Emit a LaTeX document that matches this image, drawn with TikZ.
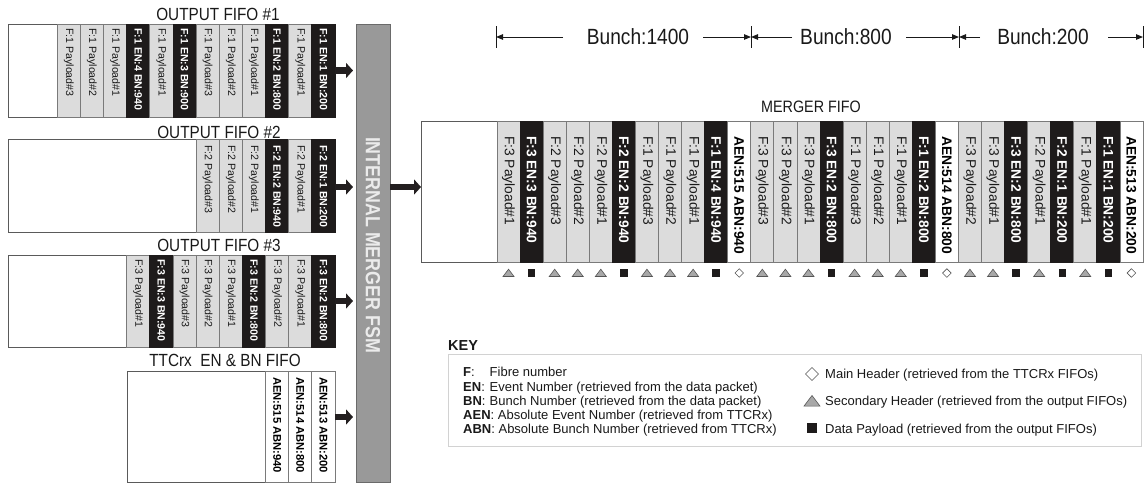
\documentclass[tikz,border=0pt]{standalone}
\usepackage{fontspec}
\setmainfont{Liberation Sans}
\newfontfamily\narrowfont[FakeStretch=0.87]{Liberation Sans}
\usetikzlibrary{arrows.meta}
\definecolor{paygray}{HTML}{DCDCDC}
\definecolor{cellline}{HTML}{7A7A7A}
\definecolor{hdrblack}{HTML}{1E1B1B}
\definecolor{boxline}{HTML}{5A5A5A}
\definecolor{fsmgray}{HTML}{999999}
\definecolor{fsmline}{HTML}{6A6A6A}
\definecolor{arrowblack}{HTML}{231F20}
\definecolor{keyline}{HTML}{D2D2D2}
\definecolor{trigray}{HTML}{A8A8A8}
\definecolor{markline}{HTML}{555555}
\newcommand\fsz[1]{\fontsize{#1}{#1}\selectfont}
\newif\ifmarks
\newcommand\fifocells[8]{%
  \foreach \ty/\tx [count=\i] in {#8} {%
    \pgfmathsetmacro\xx{#2+(\i-1)*#4}%
    \ifcase\ty
      \node[cellbase, paycell, minimum width=#4pt, minimum height=#5pt] (#1\i) at (\xx,-#3) {};
      \node[celltext, font=\fsz{#6}] (#1\i t) at ([yshift=-#7pt]#1\i.north) {\tx};
      \ifmarks \path (#1\i.south) ++(0,-11) pic {tri}; \fi
    \or
      \node[cellbase, hdrcell, minimum width=#4pt, minimum height=#5pt] (#1\i) at (\xx,-#3) {};
      \node[celltext, text=white, font=\fsz{#6}\bfseries] (#1\i t) at ([yshift=-#7pt]#1\i.north) {\tx};
      \ifmarks \path (#1\i.south) ++(0,-11) pic {sq}; \fi
    \or
      \node[cellbase, aencell, minimum width=#4pt, minimum height=#5pt] (#1\i) at (\xx,-#3) {};
      \node[celltext, text=black, font=\fsz{#6}\bfseries] (#1\i t) at ([yshift=-#7pt]#1\i.north) {\tx};
      \ifmarks \path (#1\i.south) ++(0,-11) pic {dia}; \fi
    \fi
  }%
}
\tikzset{
  cellbase/.style={anchor=north west, inner sep=0pt, outer sep=0pt, line width=0.8pt},
  paycell/.style={draw=cellline, fill=paygray},
  hdrcell/.style={draw=hdrblack, fill=hdrblack},
  aencell/.style={draw=cellline, fill=white},
  celltext/.style={rotate=-90, anchor=west, inner sep=0pt, text=black!90},
  fifobox/.style={draw=boxline, fill=white, line width=0.9pt, anchor=north west, inner sep=0pt, outer sep=0pt},
  title/.style={font=\narrowfont\fsz{17.6}, text=black!90, inner sep=0pt},
  fsm/.style={draw=fsmline, fill=fsmgray, line width=0.9pt, anchor=north west, inner sep=0pt, outer sep=0pt},
  fsmtext/.style={rotate=-90, font=\narrowfont\fsz{20.5}\bfseries, text=white!92!black, inner sep=0pt},
  blockarrow/.style={draw=arrowblack, line width=6.5pt, -{Triangle[length=7pt,width=15pt]}},
  dimarrow/.style={draw=black!90, line width=1pt, -{Triangle[length=7pt,width=5.5pt]}},
  tick/.style={draw=black!90, line width=1pt},
  bunch/.style={font=\narrowfont\fsz{22}, text=black!90, inner sep=0pt},
  keybox/.style={draw=keyline, fill=white, line width=1pt, anchor=north west, inner sep=0pt},
  keytext/.style={font=\fsz{13}, text=black!90, anchor=base west, inner sep=0pt},
  tri/.pic={\draw[draw=markline, fill=trigray, line width=0.6pt] (-5.5pt,-3.5pt) -- (5.5pt,-3.5pt) -- (0pt,3.8pt) -- cycle;},
  sq/.pic={\fill[hdrblack] (-3.7pt,-3.7pt) rectangle (3.7pt,3.7pt);},
  dia/.pic={\draw[draw=markline, fill=white, line width=0.6pt] (-4.3pt,0pt) -- (0pt,4.3pt) -- (4.3pt,0pt) -- (0pt,-4.3pt) -- cycle;},
}
\begin{document}
\begin{tikzpicture}[x=1pt,y=1pt]
\useasboundingbox (0,0) rectangle (1146,-483);

% ---------- output FIFOs ----------
\node[title] (t1) at (218,-14) {OUTPUT FIFO \#1};
\node[fifobox, minimum width=327pt, minimum height=93pt] (fifo1) at (8,-24) {};
\fifocells{fa}{57.2}{24}{23.15}{93}{10.6}{4}{0/F:1 Payload\#3, 0/F:1 Payload\#2, 0/F:1 Payload\#1, 1/F:1 EN:4 BN:940, 0/F:1 Payload\#1, 1/F:1 EN:3 BN:900, 0/F:1 Payload\#3, 0/F:1 Payload\#2, 0/F:1 Payload\#1, 1/F:1 EN:2 BN:800, 0/F:1 Payload\#1, 1/F:1 EN:1 BN:200}

\node[title] (t2) at (219,-132) {OUTPUT FIFO \#2};
\node[fifobox, minimum width=327pt, minimum height=93pt] (fifo2) at (8,-139) {};
\fifocells{fb}{196.1}{139}{23.15}{93}{10.6}{6}{0/F:2 Payload\#3, 0/F:2 Payload\#2, 0/F:2 Payload\#1, 1/F:2 EN:2 BN:940, 0/F:2 Payload\#1, 1/F:2 EN:1 BN:200}

\node[title] (t3) at (219,-245) {OUTPUT FIFO \#3};
\node[fifobox, minimum width=327pt, minimum height=92pt] (fifo3) at (8,-255) {};
\fifocells{fc}{126.65}{255}{23.15}{92}{10.6}{4}{0/F:3 Payload\#1, 1/F:3 EN:3 BN:940, 0/F:3 Payload\#3, 0/F:3 Payload\#2, 0/F:3 Payload\#1, 1/F:3 EN:2 BN:800, 0/F:3 Payload\#2, 0/F:3 Payload\#1, 1/F:3 EN:2 BN:800}

\node[title] (t4) at (225,-360) {TTCrx\ \ EN \& BN FIFO};
\node[fifobox, minimum width=208pt, minimum height=111pt] (ttc) at (127,-371) {};
\fifocells{fd}{265.55}{371}{23.15}{111}{11.2}{6}{2/AEN:515 ABN:940, 2/AEN:514 ABN:800, 2/AEN:513 ABN:200}

% ---------- FSM ----------
\node[fsm, minimum width=34pt, minimum height=458pt] (fsm) at (356,-24) {};
\node[fsmtext] (fsmt) at (373,-245) {INTERNAL MERGER FSM};

\draw[blockarrow, shorten >=3pt] (fifo1.east) -- (fifo1.east -| fsm.west);
\draw[blockarrow, shorten >=3pt] ([yshift=-1.5pt]fifo2.east) -- ([yshift=-1.5pt]fifo2.east -| fsm.west);
\draw[blockarrow, shorten >=3pt] (fifo3.east) -- (fifo3.east -| fsm.west);
\draw[blockarrow, shorten >=3pt] ([yshift=9.5pt]ttc.east) -- ([yshift=9.5pt]ttc.east -| fsm.west);

% ---------- merger FIFO ----------
\node[title, font=\narrowfont\fsz{16.5}] (mt) at (811,-107) {MERGER FIFO};
\node[fifobox, minimum width=722pt, minimum height=141pt] (merger) at (421,-121) {};
\draw[blockarrow] ([yshift=4.5pt]merger.west -| fsm.east) -- ([yshift=4.5pt]merger.west);
\markstrue
\fifocells{m}{497}{121}{23.07}{141}{13.8}{15}{0/F:3 Payload\#1, 1/F:3 EN:3 BN:940, 0/F:2 Payload\#3, 0/F:2 Payload\#2, 0/F:2 Payload\#1, 1/F:2 EN:2 BN:940, 0/F:1 Payload\#3, 0/F:1 Payload\#2, 0/F:1 Payload\#1, 1/F:1 EN:4 BN:940, 2/AEN:515 ABN:940, 0/F:3 Payload\#3, 0/F:3 Payload\#2, 0/F:3 Payload\#1, 1/F:3 EN:2 BN:800, 0/F:1 Payload\#3, 0/F:1 Payload\#2, 0/F:1 Payload\#1, 1/F:1 EN:2 BN:800, 2/AEN:514 ABN:800, 0/F:3 Payload\#2, 0/F:3 Payload\#1, 1/F:3 EN:2 BN:800, 0/F:2 Payload\#1, 1/F:2 EN:1 BN:200, 0/F:1 Payload\#1, 1/F:1 EN:1 BN:200, 2/AEN:513 ABN:200}
\marksfalse

% ---------- bunch dimensions ----------
\coordinate (k0) at (496,-37);
\coordinate (k1) at (751,-37);
\coordinate (k2) at (959,-37);
\coordinate (k3) at (1143,-37);
\foreach \k in {k0,k1,k2,k3} {\draw[tick] ([yshift=11pt]\k) -- ([yshift=-11pt]\k);}
\node[bunch] (b1) at (638,-37) {Bunch:1400};
\node[bunch] (b2) at (846,-37) {Bunch:800};
\node[bunch] (b3) at (1043,-37) {Bunch:200};
\coordinate (a1l) at (563,-37);
\coordinate (a1r) at (703,-37);
\coordinate (a2l) at (792,-37);
\coordinate (a2r) at (906,-37);
\coordinate (a3l) at (980,-37);
\coordinate (a3r) at (1108,-37);
\draw[dimarrow] (a1l) -- (k0);
\draw[dimarrow] (a1r) -- (k1);
\draw[dimarrow] (a2l) -- (k1);
\draw[dimarrow] (a2r) -- (k2);
\draw[dimarrow] (a3l) -- (k2);
\draw[dimarrow] (a3r) -- (k3);

% ---------- key ----------
\node[keytext, font=\fsz{14.5}\bfseries] (keyt) at (448,-350) {KEY};
\node[keybox, minimum width=693pt, minimum height=92pt] (keybox) at (448,-354) {};
\node[keytext] (kf) at (463,-376) {\textbf{F}:};
\node[keytext] (kfd) at (489.5,-376) {Fibre number};
\node[keytext] (ken) at (463,-391) {\textbf{EN}:};
\node[keytext] (kend) at (489.5,-391) {Event Number (retrieved from the data packet)};
\node[keytext] (kbn) at (463,-405) {\textbf{BN}:};
\node[keytext] (kbnd) at (489.5,-405) {Bunch Number (retrieved from the data packet)};
\node[keytext] (kaen) at (463,-419.5) {\textbf{AEN}: Absolute Event Number (retrieved from TTCRx)};
\node[keytext] (kabn) at (463,-433) {\textbf{ABN}: Absolute Bunch Number (retrieved from TTCRx)};
\pic[scale=1.5] at (812,-374) {dia};
\node[keytext] (kmh) at (825,-378) {Main Header (retrieved from the TTCRx FIFOs)};
\pic[scale=1.45] at (812,-401) {tri};
\node[keytext] (ksh) at (825,-405.5) {Secondary Header (retrieved from the output FIFOs)};
\pic[scale=1.45] at (812,-428) {sq};
\node[keytext] (kdp) at (825,-433) {Data Payload (retrieved from the output FIFOs)};
\end{tikzpicture}
\end{document}
